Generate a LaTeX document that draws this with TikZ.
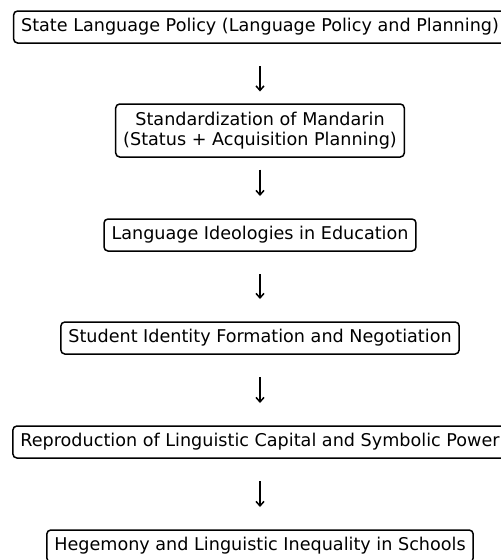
\documentclass[tikz,border=0pt]{standalone}
\usepackage{fontspec}
\setmainfont{DejaVu Sans}
\usetikzlibrary{arrows.meta}

\begin{document}
\begin{tikzpicture}[x=1pt,y=1pt,
		stage/.style={draw,rounded corners=4pt,line width=1.5pt,inner xsep=7.5pt,inner ysep=0pt,minimum height=32pt,align=center,font=\fontsize{17.6}{20}\selectfont},
		flow/.style={-{Straight Barb[length=4.5pt,width=8pt]},line width=1.5pt,shorten <=39pt,shorten >=39pt}]
		\useasboundingbox (0,0) rectangle (501,-560);
		\node[stage] (policy) at (260,-27) {State Language Policy (Language Policy and Planning)};
		\node[stage,minimum height=53pt] (mandarin) at (260,-130.5) {Standardization of Mandarin\\(Status + Acquisition Planning)};
		\node[stage] (ideology) at (260,-235) {Language Ideologies in Education};
		\node[stage] (identity) at (260,-338) {Student Identity Formation and Negotiation};
		\node[stage] (capital) at (260,-442) {Reproduction of Linguistic Capital and Symbolic Power};
		\node[stage] (hegemony) at (260,-546) {Hegemony and Linguistic Inequality in Schools};
		\foreach \a/\b in {policy/mandarin,mandarin/ideology,ideology/identity,identity/capital,capital/hegemony}
		\draw [flow] (\a.center) -- (\b.center);
		
	\end{tikzpicture}
\end{document}
